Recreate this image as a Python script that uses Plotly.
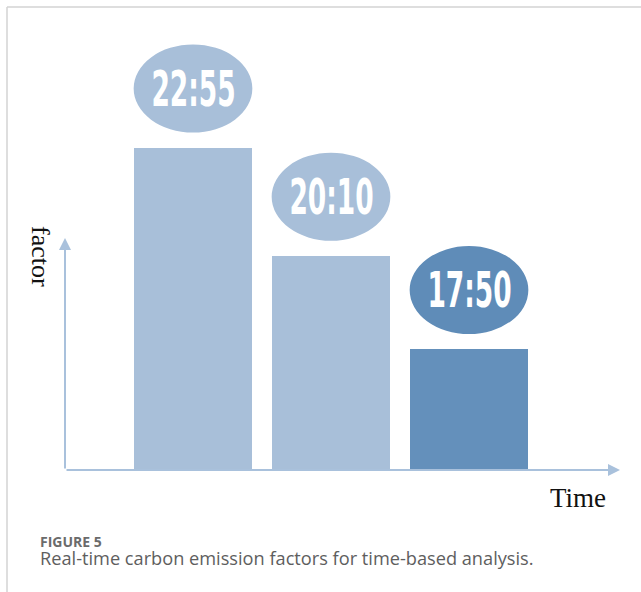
import plotly.graph_objects as go

# ---- data ----
categories = ["22:55", "20:10", "17:50"]
factor_values = [7.32, 4.86, 2.74]
bar_colors = ["#A8BFD9", "#A8BFD9", "#6490BB"]
bubble_colors = ["#A8BFD9", "#A8BFD9", "#5F8CB8"]
x_title = "Time"
y_title = "factor"
fig_label = "FIGURE 5"
fig_caption = "Real-time carbon emission factors for time-based analysis."

# ---- layout constants ----
W, H = 641, 592
L, R, T, B = 65, 21, 30, 122
plot_w = W - L - R
plot_h = H - T - B
step_px = 138.0
x0 = -(193 - L) / step_px
x1 = x0 + plot_w / step_px
y_max = 10.0
bubble_gap = 0.35
bubble_h = 2.0
bubble_hw = 0.43


def px_x(p):
    return (p - L) / plot_w


def px_y(p):
    return (H - B - p) / plot_h


fig = go.Figure()
fig.add_trace(go.Bar(
    x=list(range(len(categories))), y=factor_values,
    marker=dict(color=bar_colors, line=dict(width=0)),
    width=0.855, hoverinfo="skip", showlegend=False,
))

shapes = []
annotations = []
for i, (lab, v) in enumerate(zip(categories, factor_values)):
    yb = v + bubble_gap
    shapes.append(dict(type="circle", xref="x", yref="y",
                       x0=i - bubble_hw, x1=i + bubble_hw,
                       y0=yb, y1=yb + bubble_h,
                       fillcolor=bubble_colors[i], line=dict(width=0), layer="above"))
    annotations.append(dict(x=i, y=yb + bubble_h / 2, xref="x", yref="y",
                            text=lab, showarrow=False,
                            font=dict(family="DejaVu Sans, sans-serif", weight="bold",
                                      size=50, color="white"),
                            xanchor="center", yanchor="middle"))

axis_col = "#A9C1DC"
annotations.append(dict(x=1.0, y=0, xref="x domain", yref="y domain",
                        ax=0, ay=0, axref="x domain", ayref="y domain",
                        showarrow=True, arrowhead=2, arrowsize=1.2, arrowwidth=2,
                        arrowcolor=axis_col, text=""))
annotations.append(dict(x=0, y=px_y(238), xref="x domain", yref="y domain",
                        ax=0, ay=0, axref="x domain", ayref="y domain",
                        showarrow=True, arrowhead=2, arrowsize=1.2, arrowwidth=2,
                        arrowcolor=axis_col, text=""))

annotations.append(dict(x=px_x(41), y=px_y(256), xref="paper", yref="paper",
                        text=y_title, textangle=90, showarrow=False,
                        font=dict(family="Liberation Serif, Times New Roman, serif", size=26, color="#111"),
                        xanchor="center", yanchor="middle"))
annotations.append(dict(x=px_x(578), y=px_y(498), xref="paper", yref="paper",
                        text=x_title, showarrow=False,
                        font=dict(family="Liberation Serif, Times New Roman, serif", size=27, color="#111"),
                        xanchor="center", yanchor="middle"))
annotations.append(dict(x=px_x(38), y=px_y(541.5), xref="paper", yref="paper",
                        text=fig_label, showarrow=False,
                        font=dict(family="Open Sans, sans-serif", weight="bold", size=14, color="#6b6b6b"),
                        xanchor="left", yanchor="middle"))
annotations.append(dict(x=px_x(38), y=px_y(558), xref="paper", yref="paper",
                        text=fig_caption, showarrow=False,
                        font=dict(family="Open Sans, sans-serif", size=18.2, color="#5e5e5e"),
                        xanchor="left", yanchor="middle"))

frame_col = "#D3D3D3"
shapes.append(dict(type="line", xref="paper", yref="paper",
                   x0=px_x(7), x1=px_x(7), y0=px_y(7), y1=px_y(600),
                   line=dict(color=frame_col, width=1.5)))
shapes.append(dict(type="line", xref="paper", yref="paper",
                   x0=px_x(7), x1=px_x(650), y0=px_y(7), y1=px_y(7),
                   line=dict(color=frame_col, width=1.5)))

fig.update_layout(
    width=W, height=H,
    margin=dict(l=L, r=R, t=T, b=B, pad=0),
    paper_bgcolor="white", plot_bgcolor="white",
    xaxis=dict(range=[x0, x1], visible=False, fixedrange=True),
    yaxis=dict(range=[0, y_max], visible=False, fixedrange=True),
    shapes=shapes, annotations=annotations,
    bargap=0,
)

post = r"""
document.body.style.margin = '0';
var gd = document.getElementById('{plot_id}');
gd.querySelectorAll('text.annotation-text').forEach(function (t) {
  if (/^\d\d:\d\d$/.test(t.textContent)) {
    var b = t.getBBox();
    var cx = b.x + b.width / 2;
    var s = 0.53;
    t.setAttribute('transform', 'translate(' + cx + ',0) scale(' + s + ',1) translate(' + (-cx) + ',0)');
  }
});
"""

fig.write_html("out.html", config={"displayModeBar": False, "staticPlot": True}, post_script=post)
